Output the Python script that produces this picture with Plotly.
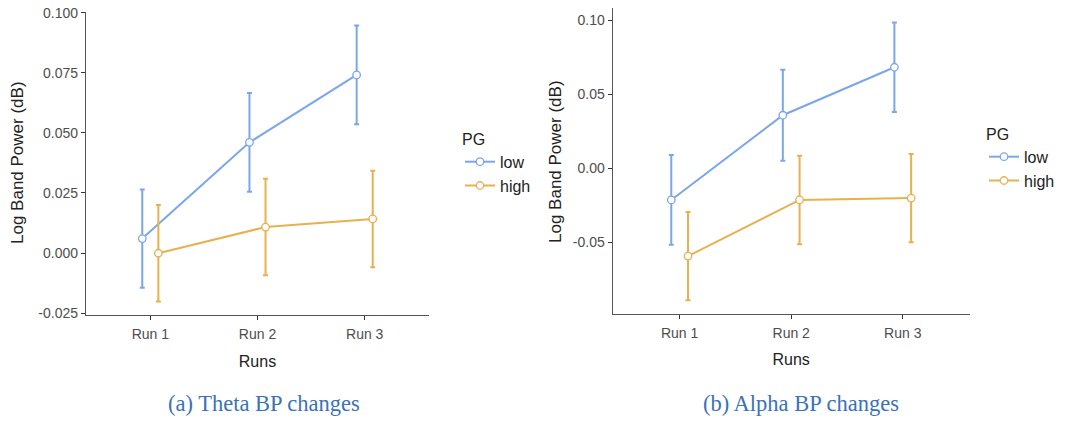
import plotly.graph_objects as go

runs = ["Run 1", "Run 2", "Run 3"]
run_pos = [1, 2, 3]
groups = ["low", "high"]

theta_low = [0.0060, 0.0461, 0.0742]
theta_low_se = [0.0205, 0.0206, 0.0206]
theta_high = [-0.0001, 0.0108, 0.0142]
theta_high_se = [0.0201, 0.0201, 0.0201]

alpha_low = [-0.0214, 0.0358, 0.0682]
alpha_low_se = [0.0303, 0.0307, 0.0302]
alpha_high = [-0.0593, -0.0214, -0.0201]
alpha_high_se = [0.0298, 0.0299, 0.0298]

theta_ticks = [-0.025, 0.0, 0.025, 0.05, 0.075, 0.1]
theta_ticktext = ["-0.025", "0.000", "0.025", "0.050", "0.075", "0.100"]
alpha_ticks = [-0.05, 0.0, 0.05, 0.1]
alpha_ticktext = ["-0.05", "0.00", "0.05", "0.10"]

captions = ["(a) Theta BP changes", "(b) Alpha BP changes"]
y_title = "Log Band Power (dB)"
x_title = "Runs"

colors = {"low": "#7BA7EA", "high": "#E8B04F"}
dodge = {"low": -0.075, "high": 0.075}

W, H = 1078, 422
SANS = "Liberation Sans, Arial"

fig = go.Figure()

panels = [
    dict(xa="x", ya="y", leg="legend", data={"low": (theta_low, theta_low_se), "high": (theta_high, theta_high_se)}),
    dict(xa="x2", ya="y2", leg="legend2", data={"low": (alpha_low, alpha_low_se), "high": (alpha_high, alpha_high_se)}),
]

for p in panels:
    for g in groups:
        vals, se = p["data"][g]
        fig.add_trace(go.Scatter(
            x=[r + dodge[g] for r in run_pos], y=vals,
            mode="lines+markers", name=g,
            xaxis=p["xa"], yaxis=p["ya"], legend=p["leg"],
            line=dict(color=colors[g], width=2),
            marker=dict(symbol="circle", size=7.5, color="white",
                        line=dict(color=colors[g], width=1.3)),
            error_y=dict(type="data", array=se, visible=True,
                         color=colors[g], thickness=2, width=2.5),
            showlegend=True,
        ))

axis_common = dict(
    showline=True, linecolor="#555555", linewidth=1.3,
    ticks="outside", ticklen=4, tickcolor="#333333", tickwidth=1.2,
    showgrid=False, zeroline=False, automargin=False,
    tickfont=dict(family=SANS, size=14, color="#4D4D4D"),
)

xtitle = dict(text=x_title, standoff=14, font=dict(family=SANS, size=16, color="#222222"))

fig.update_layout(
    width=W, height=H,
    margin=dict(l=0, r=0, t=0, b=0, autoexpand=False),
    paper_bgcolor="white", plot_bgcolor="white",
    xaxis=dict(domain=[86 / W, 429 / W], range=[0.4, 3.6],
               tickvals=run_pos, ticktext=runs, anchor="y", ticklabelstandoff=2,
               title=xtitle, **axis_common),
    yaxis=dict(domain=[1 - 315 / H, 1 - 12 / H], range=[-0.02583, 0.1004],
               tickvals=theta_ticks, ticktext=theta_ticktext, anchor="x",
               **axis_common),
    xaxis2=dict(domain=[612.7 / W, 969.7 / W], range=[0.4, 3.6],
                tickvals=run_pos, ticktext=runs, anchor="y2", ticklabelstandoff=2,
                title=xtitle, **axis_common),
    yaxis2=dict(domain=[1 - 313.7 / H, 1 - 8.3 / H], range=[-0.0982, 0.108],
                tickvals=alpha_ticks, ticktext=alpha_ticktext, anchor="x2",
                **axis_common),
    legend=dict(x=460 / W, y=1 - 124 / H, xanchor="left", yanchor="top",
                title=dict(text="PG", font=dict(family=SANS, size=16, color="#222222")),
                font=dict(family=SANS, size=16, color="#222222"),
                bgcolor="rgba(0,0,0,0)", tracegroupgap=0, itemwidth=30),
    legend2=dict(x=984 / W, y=1 - 119 / H, xanchor="left", yanchor="top",
                 title=dict(text="PG", font=dict(family=SANS, size=16, color="#222222")),
                 font=dict(family=SANS, size=16, color="#222222"),
                 bgcolor="rgba(0,0,0,0)", tracegroupgap=0, itemwidth=30),
    showlegend=True,
)

# y-axis titles
for tx, ty in [(18 / W, 1 - 163 / H), (555 / W, 1 - 162 / H)]:
    fig.add_annotation(x=tx, y=ty, xref="paper", yref="paper", text=y_title,
                       textangle=-90, showarrow=False, xanchor="center", yanchor="middle",
                       font=dict(family=SANS, size=17, color="#222222"))

cap_x = [264 / W, 801 / W]
for cx, txt in zip(cap_x, captions):
    fig.add_annotation(x=cx, y=1 - 403 / H, xref="paper", yref="paper",
                       text=txt, showarrow=False, xanchor="center", yanchor="middle",
                       font=dict(family="Liberation Serif, DejaVu Serif, serif", size=22.5, color="#3A72B8"))

fig.write_html("out.html", config={"displayModeBar": False},
               post_script="document.body.style.margin='0';document.body.style.overflow='hidden';")
